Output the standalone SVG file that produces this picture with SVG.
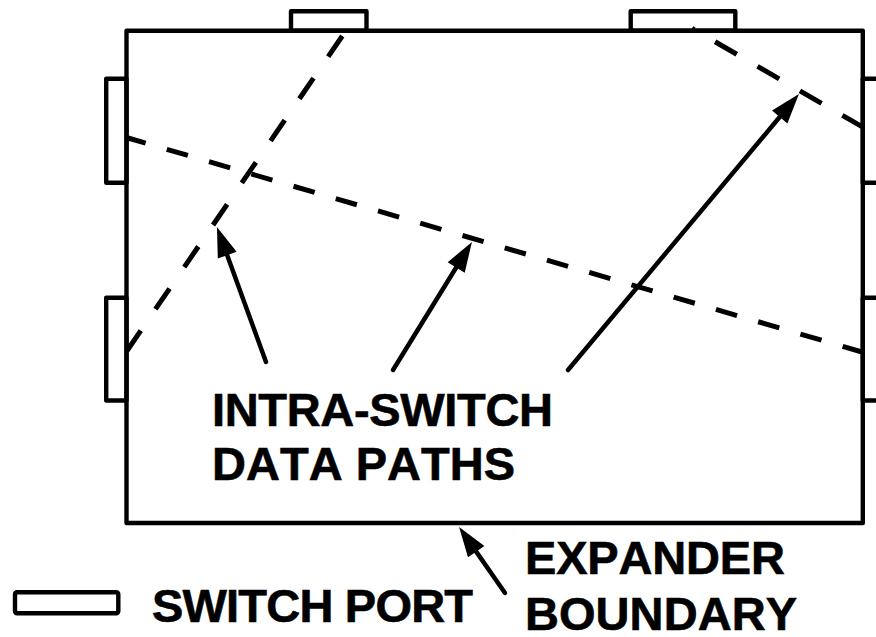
<svg xmlns="http://www.w3.org/2000/svg" width="876" height="637" viewBox="0 0 876 637">
  <style>
    .outline { fill: #fff; stroke: #000; stroke-width: 4.4; stroke-linejoin: round; }
    .frame { fill: none; stroke: #000; stroke-width: 4.4; stroke-linejoin: round; }
    .path { fill: none; stroke: #000; stroke-width: 5; stroke-linecap: butt; }
    .pointer { fill: none; stroke: #000; stroke-width: 4.5; stroke-linecap: round; }
    .label { font-family: "Liberation Sans", Arial, Helvetica, sans-serif; font-weight: bold; font-size: 47px; fill: #000; stroke: #000; stroke-width: 0.6; font-kerning: none; }
  </style>
  <defs>
    <marker id="head" markerWidth="30" markerHeight="20" refX="0" refY="10" orient="auto" markerUnits="userSpaceOnUse" overflow="visible">
      <path d="M0,0 L30,10 L0,20 z" fill="#000"/>
    </marker>
  </defs>
  <rect width="876" height="637" fill="#fff"/>

  <!-- switch ports around the expander -->
  <g id="port-top-1"><rect class="outline" x="291" y="11.3" width="75.5" height="19.5"/></g>
  <g id="port-top-2"><rect class="outline" x="630.7" y="11.3" width="104.6" height="19.5"/></g>
  <g id="port-left-1"><rect class="outline" x="106.2" y="78.7" width="20.3" height="104.1"/></g>
  <g id="port-left-2"><rect class="outline" x="106.2" y="297.7" width="20.3" height="102.8"/></g>
  <g id="port-right-1"><rect class="outline" x="862.8" y="78.7" width="30" height="104.1"/></g>
  <g id="port-right-2"><rect class="outline" x="862.8" y="297.7" width="30" height="102.8"/></g>

  <!-- expander boundary -->
  <g id="expander"><rect class="frame" x="126.5" y="30.8" width="736.3" height="492.2"/></g>

  <!-- intra-switch data paths and pointers -->
  <g id="connectors">
    <line class="path" x1="342.3" y1="36" x2="127.2" y2="350.5" stroke-dasharray="25 26"/>
    <line class="path" x1="128" y1="138" x2="862" y2="352" stroke-dasharray="22 22" stroke-dashoffset="3.6"/>
    <line class="path" x1="692" y1="28.4" x2="862" y2="126.7" stroke-dasharray="25 24" stroke-dashoffset="22.3"/>

    <line class="pointer" x1="266" y1="362" x2="227.2" y2="255.2" marker-end="url(#head)"/>
    <line class="pointer" x1="393" y1="370" x2="456.2" y2="267.5" marker-end="url(#head)"/>
    <line class="pointer" x1="568" y1="370" x2="779.7" y2="117" marker-end="url(#head)"/>
    <line class="pointer" x1="505" y1="593" x2="476.2" y2="551.6" marker-end="url(#head)"/>
  </g>

  <!-- legend symbol -->
  <g id="legend-port"><rect class="outline" x="15" y="592.2" width="103.3" height="21" rx="2"/></g>

  <g id="labels">
    <text class="label" x="212" y="426" textLength="341" lengthAdjust="spacing">INTRA-SWITCH</text>
    <text class="label" x="212" y="480" textLength="303" lengthAdjust="spacing">DATA PATHS</text>
    <text class="label" x="152" y="622" textLength="321" lengthAdjust="spacing">SWITCH PORT</text>
    <text class="label" x="525" y="574" textLength="260" lengthAdjust="spacing">EXPANDER</text>
    <text class="label" x="525" y="630" textLength="272" lengthAdjust="spacing">BOUNDARY</text>
  </g>
</svg>
